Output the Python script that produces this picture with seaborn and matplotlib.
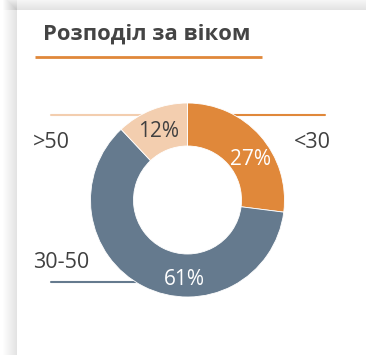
import numpy as np
import matplotlib
matplotlib.use("Agg")
import matplotlib.pyplot as plt
import seaborn as sns

# Age distribution
categories = ["<30", "30-50", ">50"]
shares = [27, 61, 12]
pct_labels = ["27%", "61%", "12%"]
title_text = "Розподіл за віком"

colors = ["#E0883A", "#657A8E", "#F3CEAF"]
pct_colors = ["white", "white", "#404040"]

sns.set_theme(style="white")
plt.rcParams["font.family"] = ["Open Sans", "DejaVu Sans"]

W, H = 366, 355
fig = plt.figure(figsize=(W / 100, H / 100), dpi=100)
fig.patch.set_facecolor("white")
ax = fig.add_axes([0, 0, 1, 1])
ax.set_xlim(0, W)
ax.set_ylim(0, H)
ax.set_aspect("equal")
ax.axis("off")

# card shadow on left and top edges
card_x, card_top = 17, H - 10
for i in range(14):
    ax.add_patch(plt.Rectangle((card_x - 14 + i, 0), 14 - i, card_top + 14 - i,
                               facecolor="black", alpha=0.007, lw=0, zorder=0))
    ax.add_patch(plt.Rectangle((card_x - 14 + i, card_top), W, 14 - i,
                               facecolor="black", alpha=0.007, lw=0, zorder=0))
ax.add_patch(plt.Rectangle((card_x, 0), W - card_x, card_top, facecolor="white",
                           lw=0, zorder=1))

# title and underline
ax.text(43, H - 34, title_text, fontsize=15.8, fontweight="bold", color="#444444",
        va="center", ha="left", zorder=5)
ax.plot([35, 262], [H - 57, H - 57], color="#E0883A", lw=2, solid_capstyle="butt",
        zorder=5)

# donut
cx, cy = 187.5, H - 200
r_out, r_in = 97, 54
wedges, _ = ax.pie(shares, colors=colors, startangle=90, counterclock=False,
                   radius=r_out, center=(cx, cy), frame=True,
                   wedgeprops=dict(width=r_out - r_in, edgecolor="white", linewidth=0.6))
for w in wedges:
    w.set_zorder(4)
ax.set_xlim(0, W)
ax.set_ylim(0, H)
ax.axis("off")

# leader lines behind the ring
ax.plot([cx, 325], [cy + 85, cy + 85], color=colors[0], lw=1.5, zorder=3)
ax.plot([51, cx - 40], [cy - 82, cy - 82], color=colors[1], lw=1.5, zorder=3)
ax.plot([51, cx], [cy + 85, cy + 85], color=colors[2], lw=1.5, zorder=3)

# percentage labels inside wedges
label_angles = [33, -92, 113]
label_radius = [75, 80, 74]
for txt, ang, rr, col in zip(pct_labels, label_angles, label_radius, pct_colors):
    t = np.deg2rad(ang)
    ax.text(cx + rr * np.cos(t), cy + rr * np.sin(t), txt, fontsize=15,
            color=col, ha="center", va="center", zorder=6)

# category labels
cat_pos = [(312, H - 143, "center"), (33, H - 262, "left"), (33, H - 143, "left")]
for name, (x, y, ha) in zip(categories, cat_pos):
    ax.text(x, y, name, fontsize=15.5, color="#404040", ha=ha, va="center", zorder=6)

fig.savefig("out.png", dpi=100, facecolor="white")
